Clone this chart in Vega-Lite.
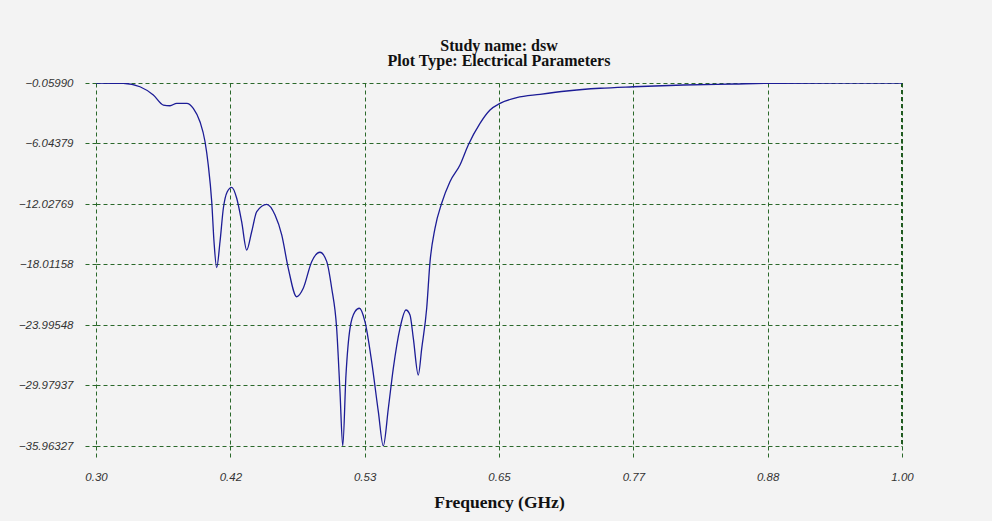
{
  "$schema": "https://vega.github.io/schema/vega-lite/v6.json",
  "width": 806,
  "height": 363,
  "autosize": {"type": "none"},
  "padding": {"left": 96, "top": 83, "right": 90, "bottom": 75},
  "background": "#f3f3f3",
  "title": {
    "text": ["Study name: dsw", "Plot Type: Electrical Parameters"],
    "font": "Liberation Serif",
    "fontWeight": "bold",
    "fontSize": 16,
    "lineHeight": 15.5,
    "color": "#111111",
    "anchor": "middle",
    "offset": 8
  },
  "config": {
    "view": {"stroke": null},
    "axis": {
      "grid": true,
      "gridColor": "#2a682a",
      "gridDash": [4, 3],
      "gridWidth": 1,
      "gridOpacity": 1,
      "tickColor": "#2a682a",
      "tickDash": [4, 3],
      "tickWidth": 1,
      "domain": false,
      "labelFont": "Liberation Sans",
      "labelFontStyle": "italic",
      "labelFontSize": 11.5,
      "labelColor": "#333333",
      "labelFlush": false,
      "titleFont": "Liberation Serif",
      "titleFontWeight": "bold",
      "titleFontSize": 17.5,
      "titleColor": "#111111"
    }
  },
  "data": {
    "values": [
      {"f": 0.3000, "v": -0.06},
      {"f": 0.3237, "v": -0.09},
      {"f": 0.3382, "v": -0.43},
      {"f": 0.3498, "v": -1.25},
      {"f": 0.3585, "v": -2.24},
      {"f": 0.3643, "v": -2.31},
      {"f": 0.3701, "v": -2.07},
      {"f": 0.3788, "v": -2.07},
      {"f": 0.3845, "v": -2.56},
      {"f": 0.3903, "v": -3.89},
      {"f": 0.3947, "v": -5.87},
      {"f": 0.3975, "v": -8.17},
      {"f": 0.4005, "v": -11.80},
      {"f": 0.4025, "v": -15.76},
      {"f": 0.4048, "v": -18.33},
      {"f": 0.4077, "v": -15.76},
      {"f": 0.4106, "v": -12.45},
      {"f": 0.4140, "v": -10.81},
      {"f": 0.4179, "v": -10.38},
      {"f": 0.4222, "v": -11.46},
      {"f": 0.4265, "v": -13.78},
      {"f": 0.4309, "v": -16.58},
      {"f": 0.4352, "v": -14.77},
      {"f": 0.4396, "v": -12.79},
      {"f": 0.4483, "v": -12.06},
      {"f": 0.4555, "v": -13.12},
      {"f": 0.4613, "v": -15.09},
      {"f": 0.4670, "v": -18.39},
      {"f": 0.4743, "v": -21.20},
      {"f": 0.4800, "v": -20.36},
      {"f": 0.4873, "v": -17.73},
      {"f": 0.4945, "v": -16.80},
      {"f": 0.5004, "v": -17.73},
      {"f": 0.5047, "v": -20.36},
      {"f": 0.5090, "v": -24.32},
      {"f": 0.5119, "v": -30.59},
      {"f": 0.5143, "v": -35.96},
      {"f": 0.5171, "v": -28.94},
      {"f": 0.5206, "v": -24.32},
      {"f": 0.5249, "v": -22.68},
      {"f": 0.5287, "v": -22.34},
      {"f": 0.5336, "v": -23.67},
      {"f": 0.5394, "v": -27.62},
      {"f": 0.5452, "v": -32.57},
      {"f": 0.5495, "v": -35.96},
      {"f": 0.5539, "v": -32.23},
      {"f": 0.5582, "v": -28.28},
      {"f": 0.5640, "v": -24.32},
      {"f": 0.5692, "v": -22.51},
      {"f": 0.5727, "v": -23.01},
      {"f": 0.5756, "v": -25.31},
      {"f": 0.5799, "v": -28.94},
      {"f": 0.5829, "v": -26.30},
      {"f": 0.5872, "v": -22.34},
      {"f": 0.5901, "v": -17.73},
      {"f": 0.5944, "v": -14.43},
      {"f": 0.6002, "v": -11.96},
      {"f": 0.6074, "v": -9.82},
      {"f": 0.6161, "v": -8.17},
      {"f": 0.6233, "v": -6.19},
      {"f": 0.6335, "v": -4.05},
      {"f": 0.6422, "v": -2.73},
      {"f": 0.6509, "v": -2.07},
      {"f": 0.6654, "v": -1.51},
      {"f": 0.6856, "v": -1.18},
      {"f": 0.7088, "v": -0.85},
      {"f": 0.7377, "v": -0.58},
      {"f": 0.7666, "v": -0.43},
      {"f": 0.8101, "v": -0.26},
      {"f": 0.8535, "v": -0.16},
      {"f": 0.8912, "v": -0.09},
      {"f": 1.0000, "v": -0.07}
    ]
  },
  "layer": [
    {
      "mark": {"type": "rule", "color": "#1f5a1f", "strokeWidth": 2, "strokeDash": [4, 3]},
      "encoding": {"x": {"datum": 1.0, "type": "quantitative"}}
    },
    {
      "mark": {"type": "line", "color": "#1c1c96", "strokeWidth": 1.3, "interpolate": "monotone", "clip": true},
      "encoding": {
        "x": {
          "field": "f",
          "type": "quantitative",
          "scale": {"domain": [0.3, 1.0], "nice": false, "zero": false},
          "axis": {
            "title": "Frequency (GHz)",
            "values": [0.3, 0.416667, 0.533333, 0.65, 0.766667, 0.883333, 1.0],
            "format": ".2f",
            "tickSize": 12,
            "labelPadding": 13,
            "titleY": 47
          }
        },
        "y": {
          "field": "v",
          "type": "quantitative",
          "scale": {"domain": [-35.96327, -0.0599], "nice": false, "zero": false},
          "axis": {
            "title": null,
            "values": [-0.0599, -6.04379, -12.02769, -18.01158, -23.99548, -29.97937, -35.96327],
            "format": ".5f",
            "tickSize": 13,
            "labelPadding": 10
          }
        }
      }
    }
  ]
}
